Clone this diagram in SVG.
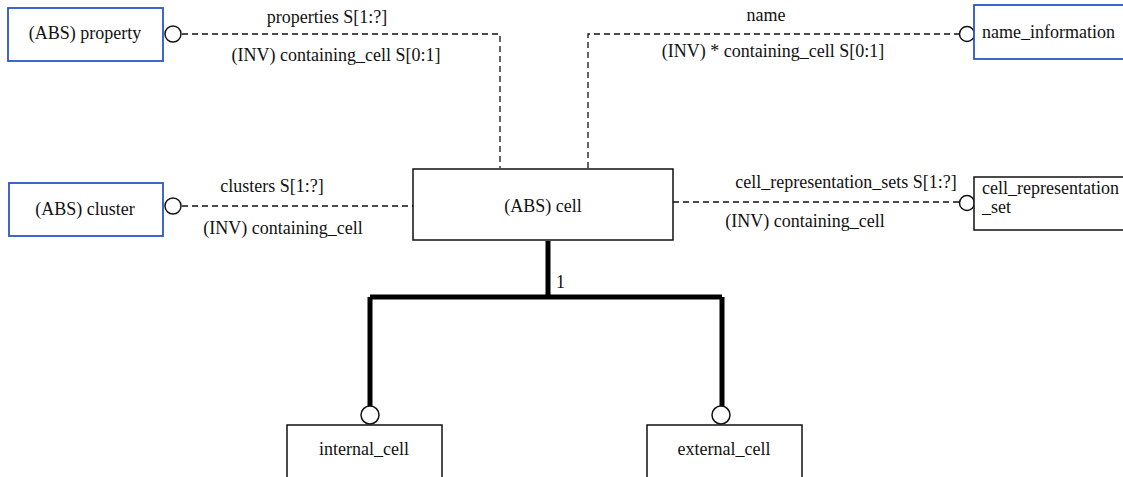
<svg xmlns="http://www.w3.org/2000/svg" width="1123" height="477" viewBox="0 0 1123 477" font-family="Liberation Serif, serif">
  <style>
    .t { font-family: 'Liberation Serif', serif; font-size: 18px; fill: #111; }
    .mid { text-anchor: middle; }
    .box { fill: #fff; stroke: #111; stroke-width: 1.5; }
    .abs { fill: #fff; stroke: #2a56c6; stroke-width: 1.8; }
    .rel { fill: none; stroke: #111; stroke-width: 1.3; stroke-dasharray: 6 4; }
    .sub { fill: none; stroke: #000; stroke-width: 5; stroke-linejoin: round; }
    .end { fill: #fff; stroke: #111; stroke-width: 1.5; }
  </style>

  <!-- relationships and subtype tree -->
  <g id="connectors">
    <path class="rel" d="M182 34 H500 V168"/>
    <path class="rel" d="M588 168 V34 H959"/>
    <path class="rel" d="M182 206 H413"/>
    <path class="rel" d="M673 202 H960"/>
    <path class="sub" d="M548 241 V297 M370 297 H722 M370 297 V406 M722 297 V406"/>
    <circle class="end" cx="173" cy="34" r="8"/>
    <circle class="end" cx="967" cy="34" r="7.5"/>
    <circle class="end" cx="173" cy="206" r="8"/>
    <circle class="end" cx="967" cy="203" r="7.5"/>
    <circle class="end" cx="370" cy="415" r="9"/>
    <circle class="end" cx="721" cy="415" r="9"/>
    <text class="t mid" x="327" y="23">properties S[1:?]</text>
    <text class="t mid" x="336" y="61">(INV) containing_cell S[0:1]</text>
    <text class="t mid" x="766" y="21">name</text>
    <text class="t mid" x="773" y="57">(INV) * containing_cell S[0:1]</text>
    <text class="t mid" x="272" y="192">clusters S[1:?]</text>
    <text class="t mid" x="283" y="234">(INV) containing_cell</text>
    <text class="t mid" x="846" y="188">cell_representation_sets S[1:?]</text>
    <text class="t mid" x="805" y="227">(INV) containing_cell</text>
    <text class="t" x="556" y="288">1</text>
  </g>

  <g id="property">
    <rect class="abs" x="8" y="8" width="155" height="53"/>
    <text class="t mid" x="85" y="39">(ABS) property</text>
  </g>

  <g id="name_information">
    <rect class="abs" x="974" y="5" width="155" height="54"/>
    <text class="t" x="982" y="38">name_information</text>
  </g>

  <g id="cluster">
    <rect class="abs" x="9" y="183" width="154" height="53"/>
    <text class="t mid" x="85" y="215">(ABS) cluster</text>
  </g>

  <g id="cell">
    <rect class="box" x="413" y="169" width="260" height="71"/>
    <text class="t mid" x="543" y="212">(ABS) cell</text>
  </g>

  <g id="cell_representation_set">
    <rect class="box" x="974" y="177" width="155" height="53"/>
    <text class="t" x="982" y="194">cell_representation</text>
    <text class="t" x="982" y="213">_set</text>
  </g>

  <g id="internal_cell">
    <rect class="box" x="287" y="425" width="155" height="60"/>
    <text class="t mid" x="364" y="455">internal_cell</text>
  </g>

  <g id="external_cell">
    <rect class="box" x="647" y="425" width="155" height="60"/>
    <text class="t mid" x="724" y="455">external_cell</text>
  </g>
</svg>
